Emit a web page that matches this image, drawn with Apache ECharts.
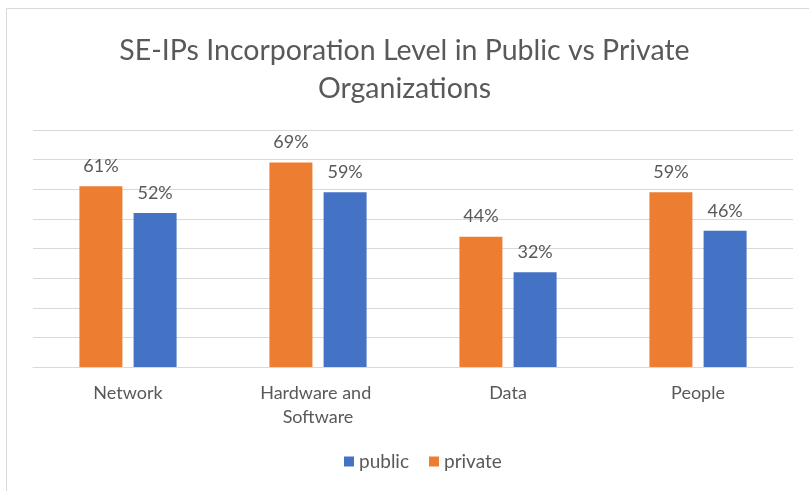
<!DOCTYPE html>
<html>
<head>
<meta charset="utf-8">
<script src="https://cdn.jsdelivr.net/npm/echarts@6/dist/echarts.min.js"></script>
<style>
  html, body { margin: 0; padding: 0; background: #fff; }
  #chart { width: 809px; height: 491px; }
</style>
</head>
<body>
<div id="chart"></div>
<script>
// categories and values
const categories = ['Network', 'Hardware and Software', 'Data', 'People'];
const privateValues = [61, 69, 44, 59];
const publicValues = [52, 59, 32, 46];
const legendNames = ['public', 'private'];

const textColor = '#595959';
const fontFamily = 'Lato, "Open Sans", sans-serif';

const chart = echarts.init(document.getElementById('chart'));

const barLabel = {
  show: true,
  position: 'top',
  distance: 11,
  formatter: '{c}%',
  fontFamily: fontFamily,
  fontSize: 18,
  color: textColor
};

const option = {
  animation: false,
  backgroundColor: '#fff',
  // thin frame of the chart area (top and left edges visible)
  graphic: [{
    type: 'rect',
    shape: { x: 6.5, y: 8.5, width: 900, height: 600 },
    style: { fill: 'none', stroke: '#d9d9d9', lineWidth: 1 },
    silent: true
  }],
  title: {
    text: 'SE-IPs Incorporation Level in Public vs Private\nOrganizations',
    left: 'center',
    top: 27,
    textStyle: {
      fontFamily: fontFamily,
      fontSize: 28.5,
      fontWeight: 'normal',
      color: textColor,
      lineHeight: 38
    }
  },
  legend: {
    data: legendNames,
    bottom: 15,
    left: 339,
    icon: 'rect',
    itemWidth: 10,
    itemHeight: 10,
    itemGap: 20,
    textStyle: { fontFamily: fontFamily, fontSize: 19, color: textColor }
  },
  grid: {
    left: 33,
    right: 16,
    top: 130,
    bottom: 124
  },
  xAxis: {
    type: 'category',
    data: categories,
    axisLine: { lineStyle: { color: '#d9d9d9' } },
    axisTick: { show: false },
    axisLabel: {
      interval: 0,
      fontFamily: fontFamily,
      fontSize: 18,
      color: textColor,
      margin: 14,
      lineHeight: 24,
      width: 150,
      overflow: 'break'
    }
  },
  yAxis: {
    type: 'value',
    min: 0,
    max: 80,
    interval: 10,
    axisLabel: { show: false },
    axisLine: { show: false },
    axisTick: { show: false },
    splitLine: { lineStyle: { color: '#d9d9d9' } }
  },
  series: [
    {
      name: 'private',
      type: 'bar',
      data: privateValues,
      barWidth: 43,
      barGap: '26%',
      itemStyle: { color: '#ed7d31' },
      label: barLabel
    },
    {
      name: 'public',
      type: 'bar',
      data: publicValues,
      barWidth: 43,
      barGap: '26%',
      itemStyle: { color: '#4472c4' },
      label: barLabel
    }
  ]
};

chart.setOption(option);
</script>
</body>
</html>
